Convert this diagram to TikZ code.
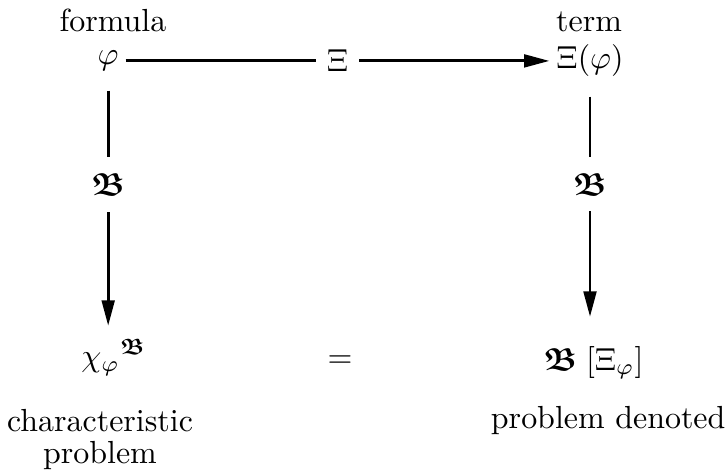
\documentclass[tikz,border=0pt]{standalone}
\usepackage{amsmath,amssymb,amsfonts}
\usepackage{xcolor}
\usepackage{tikz}
\usetikzlibrary{arrows.meta,positioning}

\newcommand{\bfr}{\boldsymbol{\mathfrak{B}}}

\begin{document}
\begin{tikzpicture}[
  obj/.style={inner sep=2pt},
  txt/.style={inner sep=1pt, align=center},
  lbl/.style={fill=white, inner sep=3.3pt},
  arr/.style={-{Triangle[length=2.8mm,width=1.4mm]}, line width=0.9pt}]
\useasboundingbox (0,0) rectangle (7.975,-5.159);
% --- top row ---
\node[txt] (formula) at (1.243,-0.22) {formula};
\node[txt] (term) at (6.48,-0.24) {term};
\node[obj] (phi) at (1.19,-0.67) {$\varphi$};
\node[obj] (xiphi) at (6.49,-0.67) {$\Xi(\varphi)$};
\draw[arr] (phi) -- node[lbl]{$\Xi$} (xiphi);
% --- bottom row ---
\node[obj] (chi) at (1.254,-3.93) {$\chi_\varphi{}^{\bfr}$};
\node[obj] (eq) at (3.74,-3.98) {$=$};
\node[obj] (bxi) at (6.53,-3.99) {$\bfr\;[\Xi_\varphi]$};
\node[txt] (charprob) at (1.10,-4.83) {characteristic\\[-2pt]problem};
\node[txt] (probden) at (6.69,-4.62) {problem denoted};
% --- vertical maps ---
\draw[arr, shorten <=4pt] (phi) -- node[lbl, pos=0.43, inner sep=5pt]{$\bfr$}
  ([yshift=2pt]phi |- chi.north);
\draw[arr, shorten <=4pt] (xiphi) -- node[lbl, pos=0.43, inner sep=5pt]{$\bfr$}
  ([yshift=7pt]xiphi |- bxi.north);
\end{tikzpicture}
\end{document}
